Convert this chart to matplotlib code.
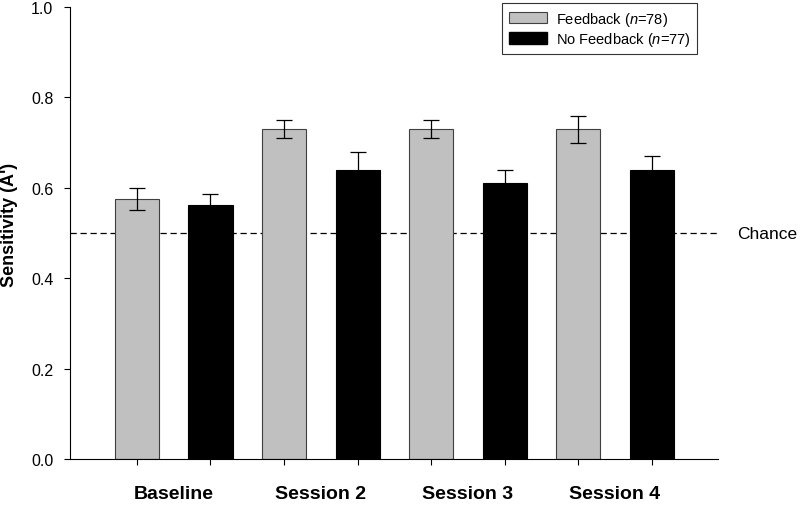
import numpy as np
import matplotlib
matplotlib.use("Agg")
import matplotlib.pyplot as plt
from matplotlib.patches import Patch

plt.rcParams['font.family'] = ['Liberation Sans', 'DejaVu Sans']
plt.rcParams['mathtext.fontset'] = 'custom'
plt.rcParams['mathtext.it'] = 'Liberation Sans:italic'
plt.rcParams['mathtext.rm'] = 'Liberation Sans'

sessions = ["Baseline", "Session 2", "Session 3", "Session 4"]
feedback = [0.575, 0.73, 0.73, 0.73]
feedback_err = [0.025, 0.02, 0.02, 0.03]
no_feedback = [0.563, 0.64, 0.61, 0.64]
no_feedback_err = [0.024, 0.04, 0.03, 0.03]
chance = 0.5

fig = plt.figure(figsize=(8, 5.06), dpi=100)
ax = fig.add_axes([0.0875, 0.091, 0.81, 0.893])

n = len(sessions)
x_fb = np.arange(n) * 2
x_nf = x_fb + 1
w = 0.6

ax.bar(x_fb, feedback, w, color='#c0c0c0', edgecolor='#404040', linewidth=0.8, zorder=2)
ax.errorbar(x_fb, feedback, yerr=feedback_err, fmt='none', ecolor='black',
            elinewidth=0.9, capsize=5.5, capthick=0.9, zorder=3)
ax.bar(x_nf, no_feedback, w, color='black', edgecolor='black', linewidth=0.8, zorder=2)
ax.errorbar(x_nf, no_feedback, yerr=no_feedback_err, fmt='none', ecolor='black',
            elinewidth=0.9, capsize=5.5, capthick=0.9, zorder=3)

# chance level
ax.axhline(chance, color='black', linestyle=(0, (5, 3)), linewidth=0.9, zorder=1)
ax.text(1.029, chance, "Chance", transform=ax.get_yaxis_transform(),
        va='center', ha='left', fontsize=12.5)

ax.set_xlim(-0.91, 7.9)
ax.set_ylim(0, 1.0)
ax.set_yticks(np.arange(0, 1.01, 0.2))
ax.set_yticklabels([f"{v:.1f}" for v in np.arange(0, 1.01, 0.2)], fontsize=11.5)
ax.set_ylabel("Sensitivity (A')", fontsize=13, fontweight='bold')
ax.yaxis.set_label_coords(-0.081, 0.52)

# ticks under each bar, labels centred under each pair
ax.set_xticks(np.arange(2 * n))
ax.set_xticklabels([])
ax.set_xticks(x_fb + 0.5, minor=True)
ax.set_xticklabels(sessions, minor=True, fontsize=14, fontweight='bold')
ax.tick_params(axis='x', which='minor', length=0, pad=19)
ax.tick_params(axis='x', which='major', direction='out', length=4.5, width=0.8)
ax.tick_params(axis='y', which='major', direction='out', length=4, width=0.8, pad=8)

for s in ['top', 'right']:
    ax.spines[s].set_visible(False)
for s in ['left', 'bottom']:
    ax.spines[s].set_linewidth(0.8)

handles = [Patch(facecolor='#c0c0c0', edgecolor='#404040', linewidth=0.8),
           Patch(facecolor='black', edgecolor='black')]
labels = ["Feedback ($n$=78)", "No Feedback ($n$=77)"]
leg = ax.legend(handles, labels, loc='upper right', bbox_to_anchor=(0.9676, 1.009),
                fontsize=10.5, frameon=True, fancybox=False, edgecolor='black',
                handlelength=2.6, handleheight=0.85, handletextpad=0.6,
                borderpad=0.45, labelspacing=0.15, borderaxespad=0)
leg.get_frame().set_linewidth(0.8)

fig.savefig("out.png", dpi=100)
